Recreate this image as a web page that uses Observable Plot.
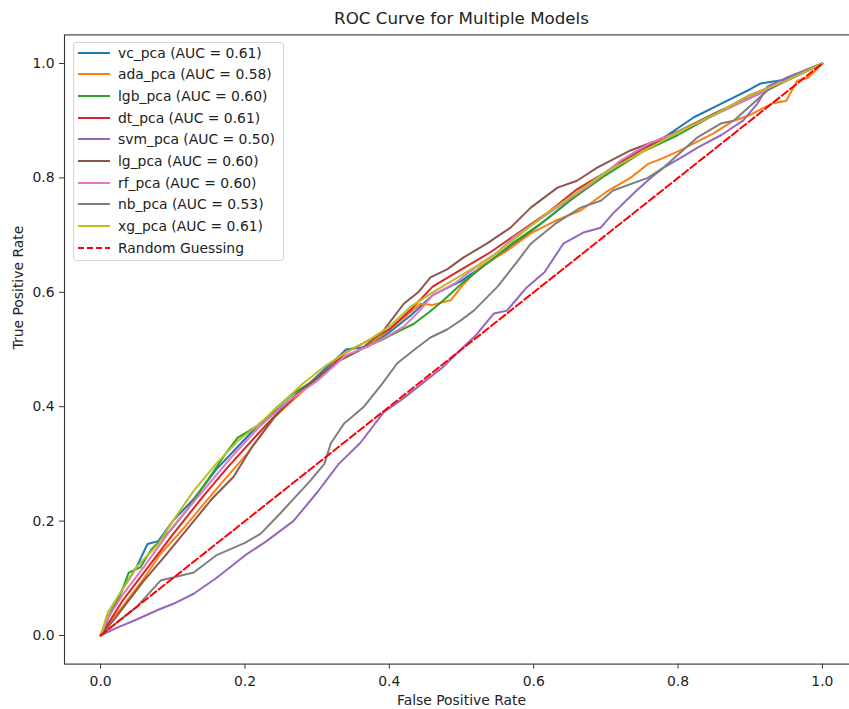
<!DOCTYPE html>
<html><head><meta charset="utf-8">
<script src="https://cdn.jsdelivr.net/npm/d3@7"></script>
<script src="https://cdn.jsdelivr.net/npm/@observablehq/plot@0.6"></script>
<style>
html,body{margin:0;padding:0;background:#fff;overflow:hidden;}
#wrap{position:relative;width:858px;height:709px;font-family:"DejaVu Sans",sans-serif;}
#legend{position:absolute;left:72.5px;top:41.5px;width:211.5px;height:219px;border:1px solid #d5d5d5;border-radius:3px;background:rgba(255,255,255,0.8);box-sizing:border-box;}
.row{position:absolute;left:0;height:20px;width:210px;}
.row svg{position:absolute;left:3px;top:0;}
.row span{position:absolute;left:44.5px;top:0;line-height:20px;font-size:13.9px;color:#222;white-space:nowrap;}
</style></head>
<body><div id="wrap"><div id="legend"></div></div>
<script>
// ---- data (fpr, tpr) ----
const models = ["vc_pca","ada_pca","lgb_pca","dt_pca","svm_pca","lg_pca","rf_pca","nb_pca","xg_pca"];
const aucs = [0.61,0.58,0.60,0.61,0.50,0.60,0.60,0.53,0.61];
const colors = ["#1f77b4","#ff7f0e","#2ca02c","#d62728","#9467bd","#8c564b","#e377c2","#7f7f7f","#bcbd22"];

const vc_pca = [[0,0],[0.01,0.03],[0.03,0.08],[0.05,0.12],[0.065,0.16],[0.08,0.165],[0.1,0.2],[0.13,0.24],[0.16,0.29],[0.19,0.33],[0.22,0.37],[0.25,0.40],[0.28,0.43],[0.31,0.465],[0.332,0.49],[0.34,0.5],[0.37,0.505],[0.4,0.53],[0.43,0.56],[0.46,0.595],[0.5,0.62],[0.54,0.655],[0.58,0.69],[0.62,0.73],[0.66,0.77],[0.7,0.81],[0.74,0.845],[0.78,0.87],[0.822,0.906],[0.86,0.93],[0.9,0.955],[0.914,0.965],[0.95,0.972],[0.98,0.99],[1,1]];
const ada_pca = [[0,0],[0.01,0.02],[0.03,0.05],[0.06,0.1],[0.083,0.143],[0.11,0.18],[0.143,0.23],[0.17,0.27],[0.203,0.318],[0.24,0.381],[0.27,0.415],[0.3,0.45],[0.33,0.48],[0.36,0.5],[0.39,0.525],[0.42,0.555],[0.443,0.58],[0.46,0.578],[0.485,0.586],[0.5,0.61],[0.526,0.645],[0.56,0.67],[0.596,0.703],[0.63,0.725],[0.665,0.743],[0.7,0.775],[0.734,0.8],[0.758,0.824],[0.78,0.835],[0.803,0.848],[0.849,0.878],[0.877,0.9],[0.9,0.91],[0.93,0.93],[0.95,0.935],[0.965,0.97],[0.98,0.975],[1,1]];
const lgb_pca = [[0,0],[0.01,0.03],[0.028,0.073],[0.039,0.11],[0.055,0.119],[0.07,0.15],[0.097,0.184],[0.12,0.22],[0.148,0.271],[0.176,0.323],[0.19,0.346],[0.222,0.37],[0.245,0.4],[0.267,0.423],[0.3,0.45],[0.33,0.48],[0.36,0.5],[0.388,0.516],[0.41,0.53],[0.434,0.545],[0.455,0.565],[0.475,0.586],[0.5,0.615],[0.53,0.645],[0.57,0.685],[0.61,0.72],[0.65,0.76],[0.7,0.805],[0.75,0.845],[0.8,0.875],[0.85,0.91],[0.9,0.94],[0.95,0.97],[1,1]];
const dt_pca = [[0,0],[0.01,0.02],[0.03,0.06],[0.06,0.11],[0.101,0.178],[0.14,0.24],[0.176,0.294],[0.222,0.358],[0.25,0.395],[0.28,0.43],[0.31,0.46],[0.34,0.495],[0.37,0.515],[0.4,0.535],[0.43,0.57],[0.46,0.61],[0.5,0.64],[0.54,0.67],[0.58,0.705],[0.62,0.74],[0.66,0.78],[0.7,0.81],[0.75,0.85],[0.8,0.88],[0.85,0.91],[0.9,0.945],[0.95,0.97],[1,1]];
const svm_pca = [[0,0],[0.02,0.012],[0.05,0.028],[0.08,0.045],[0.1,0.055],[0.129,0.073],[0.16,0.1],[0.2,0.14],[0.23,0.165],[0.267,0.2],[0.3,0.25],[0.33,0.3],[0.36,0.337],[0.392,0.39],[0.42,0.415],[0.45,0.445],[0.475,0.47],[0.499,0.5],[0.52,0.525],[0.545,0.563],[0.563,0.568],[0.59,0.608],[0.615,0.635],[0.641,0.685],[0.67,0.705],[0.693,0.713],[0.71,0.738],[0.74,0.775],[0.762,0.8],[0.78,0.818],[0.81,0.84],[0.827,0.853],[0.86,0.875],[0.89,0.9],[0.91,0.93],[0.924,0.96],[0.95,0.975],[1,1]];
const lg_pca = [[0,0],[0.02,0.03],[0.06,0.096],[0.09,0.14],[0.129,0.2],[0.155,0.24],[0.184,0.277],[0.21,0.33],[0.24,0.38],[0.27,0.42],[0.3,0.45],[0.33,0.48],[0.36,0.5],[0.39,0.53],[0.42,0.58],[0.44,0.6],[0.457,0.626],[0.48,0.64],[0.503,0.661],[0.535,0.685],[0.568,0.713],[0.596,0.748],[0.633,0.783],[0.66,0.795],[0.688,0.818],[0.734,0.848],[0.77,0.865],[0.803,0.883],[0.859,0.918],[0.9,0.94],[0.95,0.97],[1,1]];
const rf_pca = [[0,0],[0.01,0.03],[0.03,0.07],[0.06,0.12],[0.1,0.19],[0.14,0.25],[0.18,0.31],[0.22,0.365],[0.26,0.41],[0.3,0.445],[0.34,0.49],[0.37,0.505],[0.4,0.525],[0.42,0.54],[0.44,0.565],[0.46,0.595],[0.49,0.615],[0.526,0.65],[0.55,0.67],[0.572,0.696],[0.6,0.72],[0.64,0.755],[0.68,0.79],[0.72,0.83],[0.76,0.86],[0.8,0.88],[0.85,0.91],[0.9,0.94],[0.95,0.97],[1,1]];
const nb_pca = [[0,0],[0.02,0.02],[0.05,0.05],[0.083,0.096],[0.129,0.11],[0.16,0.14],[0.2,0.162],[0.222,0.178],[0.25,0.215],[0.29,0.27],[0.31,0.3],[0.319,0.336],[0.337,0.37],[0.364,0.399],[0.39,0.44],[0.411,0.476],[0.435,0.5],[0.457,0.521],[0.48,0.535],[0.499,0.551],[0.517,0.568],[0.55,0.61],[0.575,0.65],[0.596,0.685],[0.63,0.72],[0.665,0.748],[0.693,0.76],[0.71,0.778],[0.758,0.8],[0.78,0.818],[0.827,0.871],[0.859,0.895],[0.877,0.9],[0.924,0.953],[0.95,0.97],[1,1]];
const xg_pca = [[0,0],[0.01,0.04],[0.03,0.08],[0.05,0.12],[0.08,0.16],[0.1,0.2],[0.129,0.253],[0.16,0.3],[0.19,0.34],[0.22,0.37],[0.25,0.405],[0.28,0.44],[0.31,0.47],[0.34,0.495],[0.37,0.515],[0.4,0.54],[0.43,0.575],[0.46,0.6],[0.5,0.63],[0.54,0.66],[0.58,0.7],[0.62,0.74],[0.66,0.775],[0.7,0.81],[0.75,0.845],[0.8,0.88],[0.85,0.91],[0.9,0.945],[0.95,0.97],[1,1]];
const randomGuess = [[0,0],[1,1]];

const xTicks = [0,0.2,0.4,0.6,0.8,1.0];
const yTicks = [0,0.2,0.4,0.6,0.8,1.0];
const titleText = "ROC Curve for Multiple Models";
const xLabel = "False Positive Rate";
const yLabel = "True Positive Rate";
const guessLabel = "Random Guessing";

const curves = [vc_pca, ada_pca, lgb_pca, dt_pca, svm_pca, lg_pca, rf_pca, nb_pca, xg_pca];
const fmt = d3.format(".1f");

const chart = Plot.plot({
  width: 858, height: 709,
  marginLeft: 64, marginRight: 0, marginTop: 34.4, marginBottom: 45.4,
  style: {fontFamily: "DejaVu Sans, sans-serif", fontSize: "13.9px", color: "#222", background: "white", overflow: "visible"},
  x: {domain: [-0.05, 1.05]},
  y: {domain: [-0.05, 1.05]},
  marks: [
    ...curves.map((c, i) => Plot.line(c, {x: d => d[0], y: d => d[1], stroke: colors[i], strokeWidth: 2, curve: "linear"})),
    Plot.line(randomGuess, {x: d => d[0], y: d => d[1], stroke: "red", strokeWidth: 2, strokeDasharray: "7.4,3.2"}),
    Plot.frame({stroke: "#333", strokeWidth: 1.1}),
    Plot.axisX(xTicks, {tickSize: 5, tickPadding: 7, tickFormat: fmt, label: null, stroke: "#333", fontSize: 13.9}),
    Plot.axisY(yTicks, {tickSize: 5, tickPadding: 5, tickFormat: fmt, label: null, stroke: "#333", fontSize: 13.9}),
    Plot.text([titleText], {frameAnchor: "top", dy: -16.5, fontSize: 16.7, lineAnchor: "middle", fill: "#222"}),
    Plot.text([xLabel], {frameAnchor: "bottom", dy: 36.5, fontSize: 13.9, lineAnchor: "middle", fill: "#222"}),
    Plot.text([yLabel], {frameAnchor: "left", dx: -46, rotate: -90, fontSize: 13.9, lineAnchor: "middle", fill: "#222"})
  ]
});
const wrap = document.getElementById("wrap");
wrap.insertBefore(chart, wrap.firstChild);

// legend (HTML overlay)
const legend = document.getElementById("legend");
const entries = models.map((m, i) => ({label: `${m} (AUC = ${aucs[i].toFixed(2)})`, color: colors[i], dash: null}))
  .concat([{label: guessLabel, color: "red", dash: "6,3"}]);
entries.forEach((e, i) => {
  const row = document.createElement("div");
  row.className = "row";
  row.style.top = (0 + i * 21.7) + "px";
  row.innerHTML = `<svg width="34" height="20"><line x1="1" x2="33" y1="10" y2="10" stroke="${e.color}" stroke-width="2" ${e.dash ? `stroke-dasharray="${e.dash}"` : ""}/></svg><span>${e.label}</span>`;
  legend.appendChild(row);
});
</script></body></html>
